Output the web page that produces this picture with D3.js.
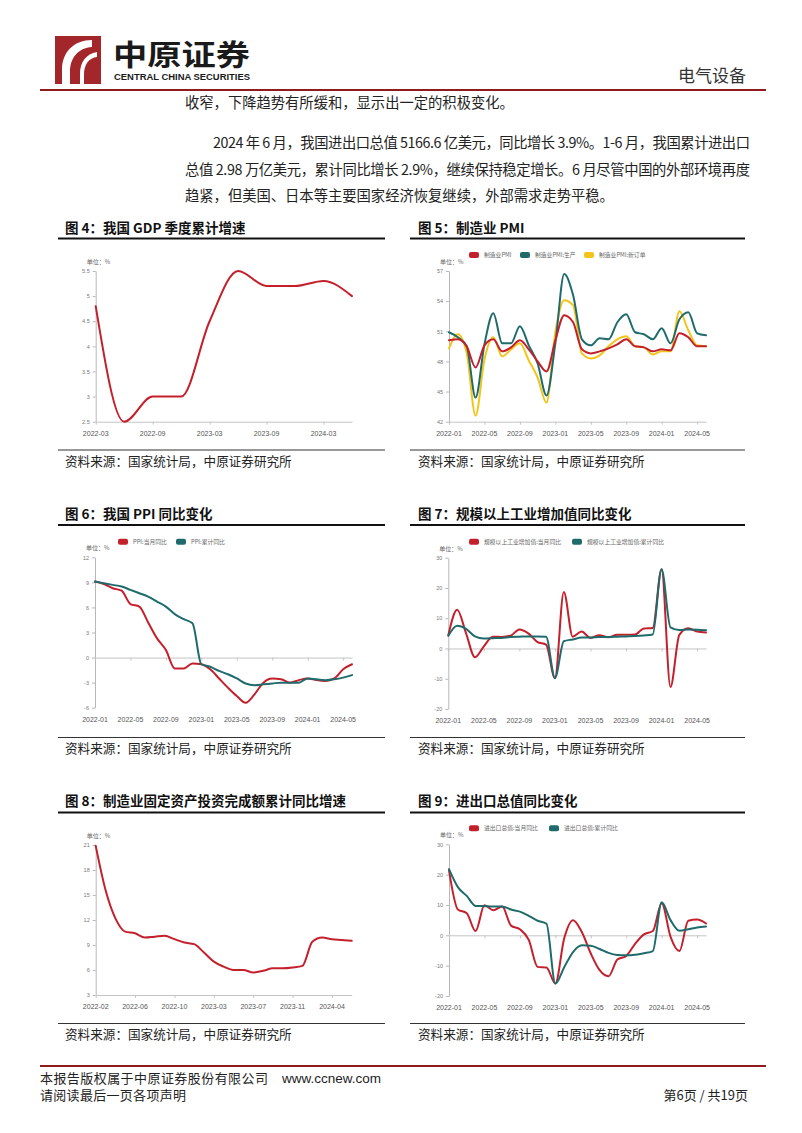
<!DOCTYPE html>
<html><head><meta charset="utf-8">
<script src="https://cdn.jsdelivr.net/npm/d3@7"></script>
<style>
html,body{margin:0;padding:0;background:#fff;}
svg{display:block;}
</style></head><body>
<svg id="page" width="802" height="1133"></svg>
<script>
// ---------------- DATA ----------------
const gdpQuarters = ["2022-03","2022-06","2022-09","2022-12","2023-03","2023-06","2023-09","2023-12","2024-03","2024-06"];
const gdpGrowth = [4.8,2.5,3.0,3.0,4.5,5.5,5.2,5.2,5.3,5.0];
const gdpTickLabels = ["2022-03","2022-09","2023-03","2023-09","2024-03"];
const gdpYTicks = [2.5,3,3.5,4,4.5,5,5.5];

const months = ["2022-01","2022-02","2022-03","2022-04","2022-05","2022-06","2022-07","2022-08","2022-09","2022-10","2022-11","2022-12",
  "2023-01","2023-02","2023-03","2023-04","2023-05","2023-06","2023-07","2023-08","2023-09","2023-10","2023-11","2023-12",
  "2024-01","2024-02","2024-03","2024-04","2024-05","2024-06"];
const monthTickLabels = ["2022-01","2022-05","2022-09","2023-01","2023-05","2023-09","2024-01","2024-05"];

const pmiTotal =      [50.1,50.2,49.5,47.4,49.6,50.2,49.0,49.4,50.1,49.2,48.0,47.0, 50.1,52.6,51.9,49.2,48.8,49.0,49.3,49.7,50.2,49.5,49.4,49.0, 49.2,49.1,50.8,50.4,49.5,49.5];
const pmiProduction = [50.9,50.4,49.5,44.4,49.7,52.8,49.8,49.8,51.5,49.6,47.8,44.6, 49.8,56.7,54.6,50.2,49.6,50.3,50.2,51.9,52.7,50.9,50.7,50.2, 51.3,49.8,52.2,52.9,50.8,50.6];
const pmiNewOrders =  [49.3,50.7,48.8,42.6,48.2,50.4,48.5,49.2,49.8,48.1,46.4,43.9, 50.9,54.1,53.6,48.8,48.3,48.6,49.5,50.2,50.5,49.5,49.4,48.7, 49.0,49.0,53.0,51.1,49.6,49.5];
const pmiYTicks = [42,45,48,51,54,57];
const pmiNames = ["制造业PMI","制造业PMI:生产","制造业PMI:新订单"];

const ppiMonthly =    [9.1,8.8,8.3,8.0,6.4,6.1,4.2,2.3,0.9,-1.3,-1.3,-0.7, -0.8,-1.4,-2.5,-3.6,-4.6,-5.4,-4.4,-3.0,-2.5,-2.6,-3.0,-2.7, -2.5,-2.7,-2.8,-2.5,-1.4,-0.8];
const ppiCumulative = [9.1,8.9,8.7,8.5,8.1,7.7,7.3,6.7,6.1,5.2,4.6,4.1, -0.8,-1.1,-1.6,-2.0,-2.5,-3.1,-3.3,-3.2,-3.1,-3.0,-3.0,-3.0, -2.5,-2.6,-2.7,-2.6,-2.4,-2.1];
const ppiYTicks = [-6,-3,0,3,6,9,12];
const ppiNames = ["PPI:当月同比","PPI:累计同比"];

const ivaMonthly =    [4.4,12.8,5.0,-2.9,0.7,3.9,3.8,4.2,6.3,5.0,2.2,1.3, -9.8,18.7,3.9,5.6,3.5,4.4,3.7,4.5,4.5,4.6,6.6,6.8, 26.2,-12.7,4.5,6.7,5.6,5.3];
const ivaCumulative = [4.2,7.5,6.5,4.0,3.3,3.4,3.5,3.8,3.9,4.0,4.0,3.9, -9.8,2.4,3.0,3.6,3.6,3.8,3.8,3.9,4.0,4.1,4.3,4.6, 26.2,7.0,6.1,6.3,6.2,6.0];
const ivaYTicks = [-20,-10,0,10,20,30];
const ivaNames = ["规模以上工业增加值:当月同比","规模以上工业增加值:累计同比"];

const faiMonths = ["2022-02","2022-03","2022-04","2022-05","2022-06","2022-07","2022-08","2022-09","2022-10","2022-11","2022-12",
  "2023-02","2023-03","2023-04","2023-05","2023-06","2023-07","2023-08","2023-09","2023-10","2023-11","2023-12",
  "2024-02","2024-03","2024-04","2024-05","2024-06"];
const faiCumulative = [20.9,15.6,12.2,10.6,10.4,9.9,10.0,10.1,9.7,9.3,9.1, 8.1,7.0,6.4,6.0,6.0,5.7,5.9,6.2,6.2,6.3,6.5, 9.4,9.9,9.7,9.6,9.5];
const faiTickLabels = ["2022-02","2022-06","2022-10","2023-03","2023-07","2023-11","2024-04"];
const faiYTicks = [3,6,9,12,15,18,21];

const tradeMonthly =    [21.4,8.5,7.3,1.4,9.9,8.3,9.5,3.2,2.0,-1.5,-10.4,-10.6, -15.9,-1.0,5.0,1.0,-6.0,-11.5,-13.5,-8.0,-6.8,-2.8,0.3,1.4, 10.6,-0.5,-5.2,4.8,5.2,3.9];
const tradeCumulative = [21.8,15.9,13.0,9.7,9.6,9.5,9.5,8.5,7.8,6.4,4.8,3.8, -15.9,-10.5,-5.5,-3.3,-3.4,-4.5,-5.8,-6.5,-6.6,-6.4,-5.9,-5.2, 10.9,5.0,1.5,2.0,2.6,2.9];
const tradeYTicks = [-20,-10,0,10,20,30];
const tradeNames = ["进出口总值:当月同比","进出口总值:累计同比"];

// ---------------- STYLE ----------------
const CJK = "'Noto Sans CJK SC','Noto Sans',sans-serif";
const LAT = "'Liberation Sans',Arial,sans-serif";
const RED = "#C3202C", TEAL = "#1F6B6C", YEL = "#F3C419", DARKRED = "#8E1B1E";

const svg = d3.select("#page");

// ---------------- HEADER ----------------
svg.append("rect").attr("x",55).attr("y",36).attr("width",46).attr("height",48).attr("fill","#A3262B");
svg.append("path").attr("d","M92,40 C74,40 62,52 62,70 L62,84 L70,84 L70,72 C70,58 78,48 92,47 Z").attr("fill","#fff");
svg.append("path").attr("d","M97,52 C86,54 80,62 80,74 L80,84 L84,84 L84,75 C84,64 89,58 97,57 Z").attr("fill","#fff");
svg.append("text").attr("x",113).attr("y",66).attr("font-family",CJK).attr("font-weight",700).attr("font-size",29)
  .attr("textLength",137).attr("lengthAdjust","spacingAndGlyphs").attr("fill","#1a1a1a").text("中原证券");
svg.append("text").attr("x",114).attr("y",80).attr("font-family",LAT).attr("font-weight",700).attr("font-size",8.6)
  .attr("textLength",136).attr("lengthAdjust","spacingAndGlyphs").attr("fill","#1a1a1a").text("CENTRAL CHINA SECURITIES");
svg.append("text").attr("x",746).attr("y",82).attr("text-anchor","end").attr("font-family",CJK).attr("font-size",17)
  .attr("fill","#333").text("电气设备");
svg.append("line").attr("x1",40).attr("x2",766).attr("y1",90).attr("y2",90).attr("stroke",DARKRED).attr("stroke-width",2);

// ---------------- BODY TEXT ----------------
const body = [
  {t:"收窄，下降趋势有所缓和，显示出一定的积极变化。", x:185, y:108},
  {t:"2024 年 6 月，我国进出口总值 5166.6 亿美元，同比增长 3.9%。1-6 月，我国累计进出口", x:213, y:148, w:537},
  {t:"总值 2.98 万亿美元，累计同比增长 2.9%，继续保持稳定增长。6 月尽管中国的外部环境再度", x:185, y:175, w:565},
  {t:"趋紧，但美国、日本等主要国家经济恢复继续，外部需求走势平稳。", x:185, y:201}
];
body.forEach(b=>{
  const t = svg.append("text").attr("x",b.x).attr("y",b.y).attr("font-family",CJK).attr("font-size",14.3)
    .attr("fill","#222").text(b.t);
  if(b.w) t.attr("textLength",b.w).attr("lengthAdjust","spacing");
});

// ---------------- FRAMES ----------------
function frame(x0, x1, tx, titleY, lineY, srcLineY, srcY, title){
  svg.append("text").attr("x",tx).attr("y",titleY).attr("font-family",CJK).attr("font-weight",700)
    .attr("font-size",13.5).attr("fill","#111").text(title);
  svg.append("line").attr("x1",x0).attr("x2",x1).attr("y1",lineY).attr("y2",lineY).attr("stroke","#111").attr("stroke-width",2.2);
  svg.append("line").attr("x1",x0).attr("x2",x1).attr("y1",srcLineY).attr("y2",srcLineY).attr("stroke","#333").attr("stroke-width",1.2);
  svg.append("text").attr("x",tx).attr("y",srcY).attr("font-family",CJK).attr("font-size",12.6)
    .attr("fill","#222").text("资料来源：国家统计局，中原证券研究所");
}
frame(58,385,65,233,238.5,450,466,"图 4：我国 GDP 季度累计增速");
frame(410,745,418,233,238.5,450,466,"图 5：制造业 PMI");
frame(58,385,65,519,525,737.5,753,"图 6：我国 PPI 同比变化");
frame(410,745,418,519,525,737.5,753,"图 7：规模以上工业增加值同比变化");
frame(58,385,65,806,812.5,1023.5,1039,"图 8：制造业固定资产投资完成额累计同比增速");
frame(410,745,418,806,812.5,1023.5,1039,"图 9：进出口总值同比变化");

// ---------------- CHARTS ----------------
function lineChart(o){
  const g = svg.append("g");
  const x = d3.scalePoint().domain(o.cats).range([o.x0,o.x1]);
  const y = d3.scaleLinear().domain([o.yTicks[0], o.yTicks[o.yTicks.length-1]]).range([o.yBot,o.yTop]);
  // y axis
  const yg = g.append("g").attr("transform",`translate(${o.x0},0)`)
    .call(d3.axisLeft(y).tickValues(o.yTicks).tickSize(3).tickSizeOuter(0).tickPadding(3).tickFormat(d=>String(d)));
  yg.select(".domain").attr("stroke","#b8b8b8");
  yg.selectAll(".tick line").attr("stroke","#b8b8b8");
  yg.selectAll("text").attr("font-size",5.5).attr("fill","#777").attr("font-family",LAT);
  // baseline
  const base = o.base;
  const xg = g.append("g").attr("transform",`translate(0,${y(base)})`)
    .call(d3.axisBottom(x).tickValues(o.xTicks).tickSize(3).tickSizeOuter(0).tickFormat(""));
  xg.select(".domain").attr("stroke","#c4c4c4");
  xg.selectAll(".tick line").attr("stroke","#c4c4c4");
  // x labels
  g.selectAll(".xl").data(o.xTicks).join("text").attr("class","xl")
    .attr("x",d=>x(d)).attr("y",o.yBot+14.2).attr("text-anchor","middle")
    .attr("font-family",LAT).attr("font-size",7).attr("fill","#555").text(d=>d);
  // unit
  g.append("text").attr("x",o.x0-9).attr("y",o.yTop-7).attr("font-family",CJK).attr("font-size",6)
    .attr("fill","#666").text("单位：%");
  // series
  const line = d3.line().x((d,i)=>x(o.cats[i])).y(d=>y(d)).curve(d3.curveMonotoneX);
  o.series.forEach(s=>{
    g.append("path").datum(s.values).attr("d",line).attr("fill","none").attr("stroke",s.color)
      .attr("stroke-width",2).attr("stroke-linejoin","round").attr("stroke-linecap","round");
  });
  // legend
  if(o.legend){
    o.legend.forEach(l=>{
      g.append("rect").attr("x",l.x).attr("y",o.legendY-3).attr("width",10).attr("height",6).attr("rx",2).attr("fill",l.color);
      g.append("text").attr("x",l.x+15).attr("y",o.legendY+2).attr("font-family",CJK).attr("font-size",5.8)
        .attr("fill","#666").text(l.name);
    });
  }
}

lineChart({cats:gdpQuarters, x0:95.7, x1:352, yTop:271, yBot:421.7, yTicks:gdpYTicks, base:2.5,
  xTicks:gdpTickLabels, series:[{values:gdpGrowth,color:RED}]});

lineChart({cats:months, x0:449, x1:706, yTop:271, yBot:421.7, yTicks:pmiYTicks, base:42,
  xTicks:monthTickLabels,
  series:[{values:pmiNewOrders,color:YEL},{values:pmiProduction,color:TEAL},{values:pmiTotal,color:RED}],
  legendY:255, legend:[{name:pmiNames[0],color:RED,x:469},{name:pmiNames[1],color:TEAL,x:520},{name:pmiNames[2],color:YEL,x:584}]});

lineChart({cats:months, x0:95, x1:352, yTop:557.3, yBot:707.7, yTicks:ppiYTicks, base:0,
  xTicks:monthTickLabels,
  series:[{values:ppiMonthly,color:RED},{values:ppiCumulative,color:TEAL}],
  legendY:541.7, legend:[{name:ppiNames[0],color:RED,x:118},{name:ppiNames[1],color:TEAL,x:176}]});

lineChart({cats:months, x0:448.3, x1:706, yTop:557.7, yBot:709, yTicks:ivaYTicks, base:0,
  xTicks:monthTickLabels,
  series:[{values:ivaMonthly,color:RED},{values:ivaCumulative,color:TEAL}],
  legendY:541.7, legend:[{name:ivaNames[0],color:RED,x:469},{name:ivaNames[1],color:TEAL,x:572}]});

lineChart({cats:faiMonths, x0:95.7, x1:351.7, yTop:845, yBot:995, yTicks:faiYTicks, base:3,
  xTicks:faiTickLabels, series:[{values:faiCumulative,color:RED}]});

lineChart({cats:months, x0:449, x1:706, yTop:844.3, yBot:996, yTicks:tradeYTicks, base:0,
  xTicks:monthTickLabels,
  series:[{values:tradeMonthly,color:RED},{values:tradeCumulative,color:TEAL}],
  legendY:828.3, legend:[{name:tradeNames[0],color:RED,x:469},{name:tradeNames[1],color:TEAL,x:549}]});

// ---------------- FOOTER ----------------
svg.append("line").attr("x1",40).attr("x2",766).attr("y1",1066).attr("y2",1066).attr("stroke",DARKRED).attr("stroke-width",2);
svg.append("text").attr("x",40).attr("y",1083).attr("font-family",CJK).attr("font-size",13).attr("fill","#222")
  .attr("textLength",228).attr("lengthAdjust","spacing").text("本报告版权属于中原证券股份有限公司");
svg.append("text").attr("x",282).attr("y",1083).attr("font-family",LAT).attr("font-size",13.5).attr("fill","#222").text("www.ccnew.com");
svg.append("text").attr("x",40).attr("y",1100).attr("font-family",CJK).attr("font-size",13).attr("fill","#222")
  .attr("textLength",146).attr("lengthAdjust","spacing").text("请阅读最后一页各项声明");
svg.append("text").attr("x",748).attr("y",1100).attr("text-anchor","end").attr("font-family",CJK).attr("font-size",13).attr("fill","#222").text("第6页 / 共19页");
</script></body></html>
